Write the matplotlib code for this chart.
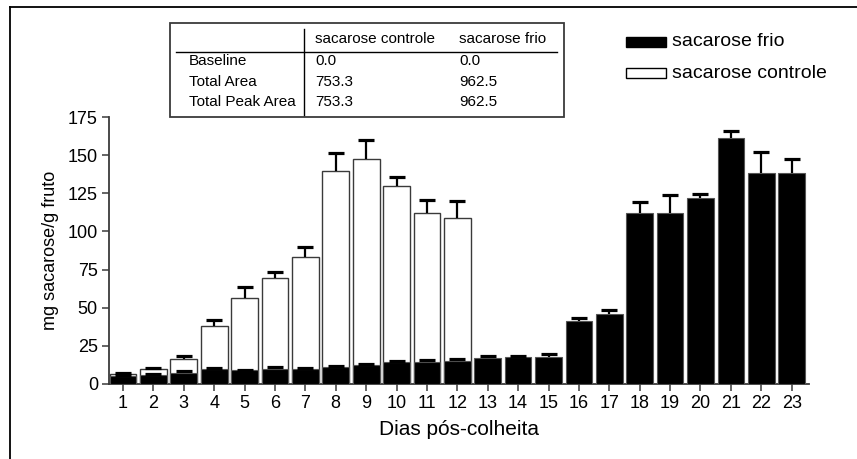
import numpy as np
import matplotlib
matplotlib.use("Agg")
import matplotlib.pyplot as plt
from matplotlib.patches import Rectangle
from matplotlib.lines import Line2D

plt.rcParams["font.family"] = ["Liberation Sans", "DejaVu Sans"]

# Sacarose por dia pós-colheita (média e erro padrão)
dias = np.arange(1, 24)
frio = [5.0, 6.0, 7.0, 9.6, 9.2, 9.6, 9.6, 10.9, 12.5, 14.6, 14.2, 15.1,
        17.0, 17.7, 17.5, 41.3, 45.7, 111.8, 111.8, 121.7, 161.0, 138.0, 138.0]
frio_err = [1.0, 0.8, 1.5, 1.0, 0.3, 1.8, 1.0, 0.6, 0.6, 0.4, 1.6, 1.3,
            1.2, 0.5, 2.0, 2.0, 2.8, 7.6, 12.4, 2.6, 5.0, 14.2, 9.4]
dias_controle = np.arange(1, 13)
controle = [6.5, 9.6, 16.2, 38.0, 56.4, 69.7, 83.4, 139.4, 147.2, 129.7, 112.3, 108.8]
controle_err = [0.9, 1.0, 1.9, 3.9, 6.9, 3.8, 6.5, 11.9, 12.8, 6.3, 8.4, 11.3]

# tabela de áreas
tab_colunas = ["sacarose controle", "sacarose frio"]
tab_linhas = ["Baseline", "Total Area", "Total Peak Area"]
tab_valores = [["0.0", "0.0"], ["753.3", "962.5"], ["753.3", "962.5"]]

W, H = 857, 459
fig = plt.figure(figsize=(W / 100, H / 100), dpi=100)


def fx(px):
    return px / W


def fy(py):
    return 1 - py / H


def erro_superior(ax, x, y, err, z):
    # só a metade de cima da barra de erro, com cap
    y = np.asarray(y)
    topo = y + np.asarray(err)
    ax.vlines(x, y, topo, color="black", lw=1.6, zorder=z)
    ax.plot(x, topo, ls="none", marker="_", ms=12, mew=2.3, color="black", zorder=z)


ax = fig.add_axes([fx(109), fy(384), fx(809) - fx(109), fy(117) - fy(384)])

larg = 0.88
cinza = "#3a3a3a"
ax.bar(dias_controle, controle, width=larg, color="white", edgecolor=cinza, linewidth=1.0, zorder=2)
erro_superior(ax, dias_controle, controle, controle_err, 3)
ax.bar(dias, frio, width=larg, color="black", edgecolor="#555555", linewidth=0.8, zorder=4)
erro_superior(ax, dias, frio, frio_err, 5)

ax.set_xlim(0.54, 23.57)
ax.set_ylim(0, 175)
ax.set_xticks(dias)
ax.set_yticks(np.arange(0, 176, 25))
ax.spines["top"].set_visible(False)
ax.spines["right"].set_visible(False)
for s in ["left", "bottom"]:
    ax.spines[s].set_color(cinza)
    ax.spines[s].set_linewidth(1.3)
ax.tick_params(axis="both", direction="out", length=5, width=1.1, color=cinza,
               labelsize=13, pad=3)
ax.set_xlabel("Dias pós-colheita", fontsize=15, labelpad=6)
ax.set_ylabel("mg sacarose/g fruto", fontsize=13, labelpad=6)

# moldura (esquerda e topo)
fig.add_artist(Line2D([fx(10), fx(10)], [0, fy(7)], color="black", lw=1.3))
fig.add_artist(Line2D([fx(10), 1], [fy(7), fy(7)], color="black", lw=1.3))

# tabela
fig.add_artist(Rectangle((fx(170), fy(117)), fx(564) - fx(170), fy(23) - fy(117),
                         fill=False, edgecolor=cinza, lw=1.3, transform=fig.transFigure))
fig.add_artist(Line2D([fx(176), fx(557)], [fy(52), fy(52)], color="black", lw=1.0))
fig.add_artist(Line2D([fx(304), fx(304)], [fy(29), fy(115)], color="black", lw=1.0))
col_x = [315, 459]
for nome, x in zip(tab_colunas, col_x):
    fig.text(fx(x), fy(39), nome, fontsize=11, va="center", ha="left")
for i, (nome, vals) in enumerate(zip(tab_linhas, tab_valores)):
    y = [61, 81.5, 102][i]
    fig.text(fx(189), fy(y), nome, fontsize=11, va="center", ha="left")
    for v, x in zip(vals, col_x):
        fig.text(fx(x), fy(y), v, fontsize=11, va="center", ha="left")

# legenda
legenda = [("sacarose frio", "black", 42), ("sacarose controle", "white", 73)]
for nome, cor, y in legenda:
    fig.add_artist(Rectangle((fx(626), fy(y + 5)), fx(666) - fx(626), fy(y - 5) - fy(y + 5),
                             facecolor=cor, edgecolor="black", lw=1.0, transform=fig.transFigure))
    fig.text(fx(672), fy(y), nome, fontsize=14, va="center", ha="left")

fig.savefig("out.png", dpi=100)
